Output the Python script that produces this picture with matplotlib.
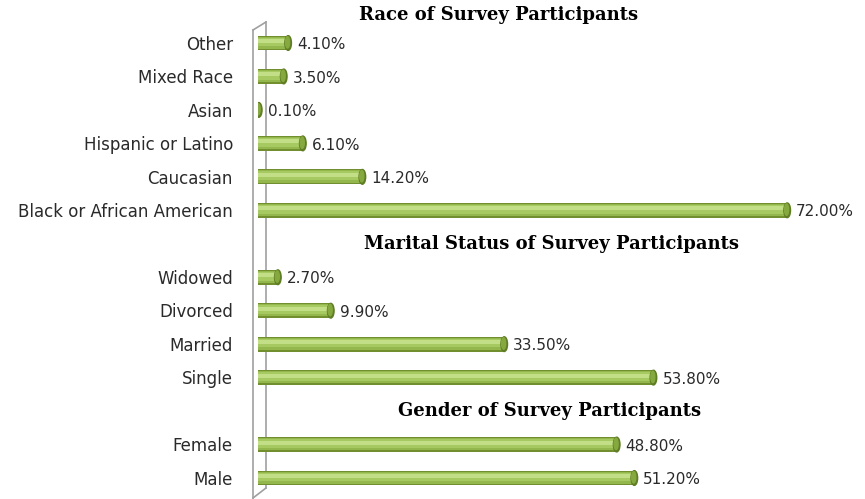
import numpy as np
import matplotlib.pyplot as plt
from matplotlib.lines import Line2D
from matplotlib.patches import Ellipse

# category rows, top to bottom; None = slot taken by a section title
race_labels = ['Other', 'Mixed Race', 'Asian', 'Hispanic or Latino', 'Caucasian',
               'Black or African American']
race_values = [4.1, 3.5, 0.1, 6.1, 14.2, 72.0]
marital_labels = ['Widowed', 'Divorced', 'Married', 'Single']
marital_values = [2.7, 9.9, 33.5, 53.8]
gender_labels = ['Female', 'Male']
gender_values = [48.8, 51.2]
section_titles = ['Race of Survey Participants',
                  'Marital Status of Survey Participants',
                  'Gender of Survey Participants']

labels = race_labels + [None] + marital_labels + [None] + gender_labels
values = race_values + [None] + marital_values + [None] + gender_values

W, H = 865, 499
fig = plt.figure(figsize=(W / 100, H / 100), dpi=100)
x0_px, x1_px = 258, 846
ax = fig.add_axes([x0_px / W, 0, (x1_px - x0_px) / W, 1])
xmax = 80
px = (x1_px - x0_px) / xmax  # pixels per unit

slot_px = (478 - 43) / 13
ax.set_xlim(0, xmax)
ax.set_ylim(13 + (H - 478) / slot_px, -43 / slot_px)
ax.axis('off')

pos = [i for i, v in enumerate(values) if v is not None]
vals = [values[i] for i in pos]
labs = [labels[i] for i in pos]

# layered bars to fake the cylinder shading
layers = [(0.44, 0.0, '#728f30'), (0.36, -0.01, '#93b64d'),
          (0.26, -0.03, '#a7c962'), (0.12, -0.06, '#c2de86')]
for h, off, c in layers:
    ax.barh(np.array(pos) + off, vals, height=h, color=c, linewidth=0, zorder=3)
# end caps
for p, v in zip(pos, vals):
    ax.add_patch(Ellipse((v, p), 0.9, 0.44, color='#5f7d25', zorder=4))
    ax.add_patch(Ellipse((v - 0.08, p - 0.02), 0.55, 0.34, color='#86a93f', zorder=4))

for p, v, lab in zip(pos, vals, labs):
    ax.text(v + 9 / px, p + 0.05, f'{v:.2f}%', va='center', ha='left',
            fontsize=11, color='#2a2a2a', family='DejaVu Sans')
    ax.text(-25 / px, p + 0.05, lab, va='center', ha='right',
            fontsize=12, color='#2a2a2a', family='DejaVu Sans')

# section titles
title_slots = [-0.84, 6, 11]
title_x = [499, 552, 550]
for t, s, xp in zip(section_titles, title_slots, title_x):
    ax.text((xp - x0_px) / px, s, t, ha='center', va='center', fontsize=13,
            fontweight='bold', family='DejaVu Serif', color='black')

# left wall
def to_data(xp, yp):
    return (xp - x0_px) / px, yp / slot_px - 43 / slot_px

wall = [[(253, 30), (253, 498)], [(253, 30), (266, 22)], [(266, 22), (266, 488)],
        [(266, 488), (253, 498)]]
for seg in wall:
    xs, ys = zip(*[to_data(*p) for p in seg])
    ax.add_line(Line2D(xs, ys, color='#a0a0a0', lw=1.2, clip_on=False, zorder=2))

fig.savefig('out.png', dpi=100)
